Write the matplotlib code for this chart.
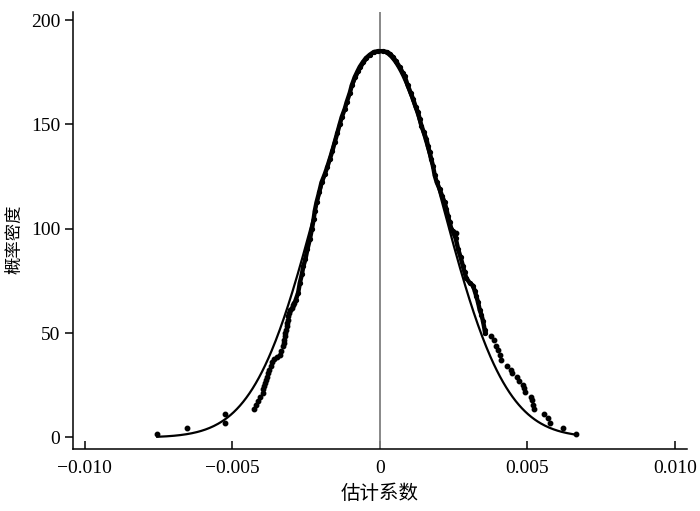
import numpy as np
import matplotlib
import matplotlib.pyplot as plt

# 字体：中文用思源黑体，数字用 Times 风格
plt.rcParams['font.family'] = ['Liberation Serif', 'DejaVu Serif']
plt.rcParams['axes.unicode_minus'] = True
cjk = ['Noto Sans CJK SC', 'DejaVu Sans']

# 拟合的正态曲线参数
fit_mean = 0.0
fit_sd = 0.00212
fit_peak = 185.0
curve_range = (-0.00754, 0.00663)

# 稀疏的散点 (x 单位 1e-3)
tail_x = [-7.536, -6.541, -5.245, -5.245,
          -4.254, -4.196, -4.112, -4.044, -3.970, -3.942, -3.909, -3.882,
          -3.848, -3.807, -3.773, -3.739, -3.689, -3.638, -3.570, -3.486,
          -3.384, -3.333, -3.293, -3.259, -3.239, -3.215, -3.198, -3.181,
          -3.157, -3.137, -3.120, -3.096, -3.069, -3.029, -2.988, -2.944,
          -2.910, 2.595,
          3.780, 3.858, 3.949, 4.003, 4.061, 4.118, 4.315, 4.457, 4.491,
          4.653, 4.714, 4.856, 4.890, 4.924, 5.120, 5.144, 5.188, 5.218,
          5.560, 5.702, 5.770, 6.203, 6.633]
tail_y = [1.5, 4.4, 11.3, 6.8,
          13.6, 15.5, 17.7, 19.5, 21.2, 23.1, 24.5, 26.1,
          27.6, 29.2, 30.9, 32.5, 34.4, 36.0, 37.5, 38.7,
          39.4, 41.3, 43.7, 45.3, 46.9, 48.5, 50.1, 51.7,
          53.3, 54.9, 56.5, 58.1, 59.7, 61.1, 62.1, 63.5,
          64.5, 98.2,
          48.5, 46.5, 44.0, 42.1, 39.7, 37.0, 34.2, 32.5, 30.9,
          29.1, 27.3, 25.2, 23.7, 21.6, 19.6, 17.8, 15.6, 13.6,
          11.4, 9.1, 7.0, 4.4, 1.7]

# 密集的散点 (连成粗线)
dense_x = [-2.843, -2.765, -2.707, -2.640, -2.589, -2.521, -2.453, -2.369,
           -2.301, -2.240, -2.200, -2.142, -2.054, -1.973, -1.861, -1.783,
           -1.692, -1.607, -1.523, -1.438, -1.354, -1.286, -1.184, -1.117,
           -1.015, -0.948, -0.846, -0.745, -0.677, -0.575, -0.474, -0.338,
           -0.203, -0.058, 0.102, 0.237, 0.338, 0.440, 0.541, 0.677, 0.778,
           0.846, 0.948, 1.049, 1.127, 1.218, 1.296, 1.354, 1.411, 1.489,
           1.580, 1.635, 1.692, 1.743, 1.804, 1.861, 1.929, 2.030, 2.115,
           2.200, 2.257, 2.311, 2.369, 2.426, 2.470, 2.572, 2.657, 2.741,
           2.819, 2.876, 2.927, 3.046, 3.158, 3.215, 3.272, 3.333, 3.384,
           3.442, 3.496, 3.553, 3.570]
dense_y = [66.1, 69.3, 74.1, 78.1, 82.1, 85.3, 90.1, 95.0,
           99.8, 104.6, 108.6, 112.6, 117.4, 122.2, 126.2, 129.4,
           133.4, 137.3, 141.6, 145.9, 150.2, 153.6, 157.5, 160.8,
           165.1, 168.7, 172.7, 175.7, 177.6, 179.8, 181.7, 183.4,
           184.7, 185.1, 185.1, 184.7, 183.9, 182.5, 180.5, 177.5, 174.8,
           173.1, 168.7, 165.1, 162.3, 158.4, 155.9, 152.6, 149.4, 146.4,
           143.0, 139.7, 136.6, 133.4, 130.2, 125.7, 122.4, 119.0, 115.6,
           112.6, 109.4, 106.2, 103.1, 99.8, 98.8, 95.5, 90.1, 86.3,
           82.1, 79.1, 76.5, 74.1, 72.8, 70.4, 67.7, 64.7, 61.3,
           58.9, 56.0, 51.7, 50.1]

xticks = [-0.010, -0.005, 0, 0.005, 0.010]
xtick_labels = ['\u22120.010', '\u22120.005', '0', '0.005', '0.010']
yticks = [0, 50, 100, 150, 200]

fig = plt.figure(figsize=(7, 5.11), dpi=100)
ax = fig.add_axes([0.104, 0.121, 0.877, 0.856])

# 正态曲线
xs = np.linspace(curve_range[0], curve_range[1], 400)
ys = fit_peak * np.exp(-0.5 * ((xs - fit_mean) / fit_sd) ** 2)
ax.plot(xs, ys, color='black', lw=1.6, zorder=3)

# 散点
ax.plot(np.array(dense_x) * 1e-3, dense_y, color='black', lw=3.2,
        marker='o', ms=2.8, zorder=4)
ax.plot(np.array(tail_x) * 1e-3, tail_y, 'o', color='black', ms=3.2,
        zorder=4)

# 0 处的竖线
ax.axvline(0, color='#7f7f7f', lw=1.3, zorder=2)

ax.set_xlim(-0.0104, 0.0104)
ax.set_ylim(-5.6, 204)
ax.set_xticks(xticks)
ax.set_xticklabels(xtick_labels)
ax.set_yticks(yticks)
ax.tick_params(axis='x', direction='in', length=6, width=1.1,
               labelsize=14, pad=8)
ax.tick_params(axis='y', direction='out', length=6, width=1.1,
               labelsize=14, pad=3)
ax.spines['top'].set_visible(False)
ax.spines['right'].set_visible(False)
ax.spines['left'].set_linewidth(1.1)
ax.spines['bottom'].set_linewidth(1.1)

ax.set_xlabel('估计系数', fontsize=14, family=cjk, labelpad=4)
ax.set_ylabel('概率密度', fontsize=12.5, family=cjk)
ax.yaxis.set_label_coords(-0.08, 0.48)

fig.savefig('out.png', dpi=100)
